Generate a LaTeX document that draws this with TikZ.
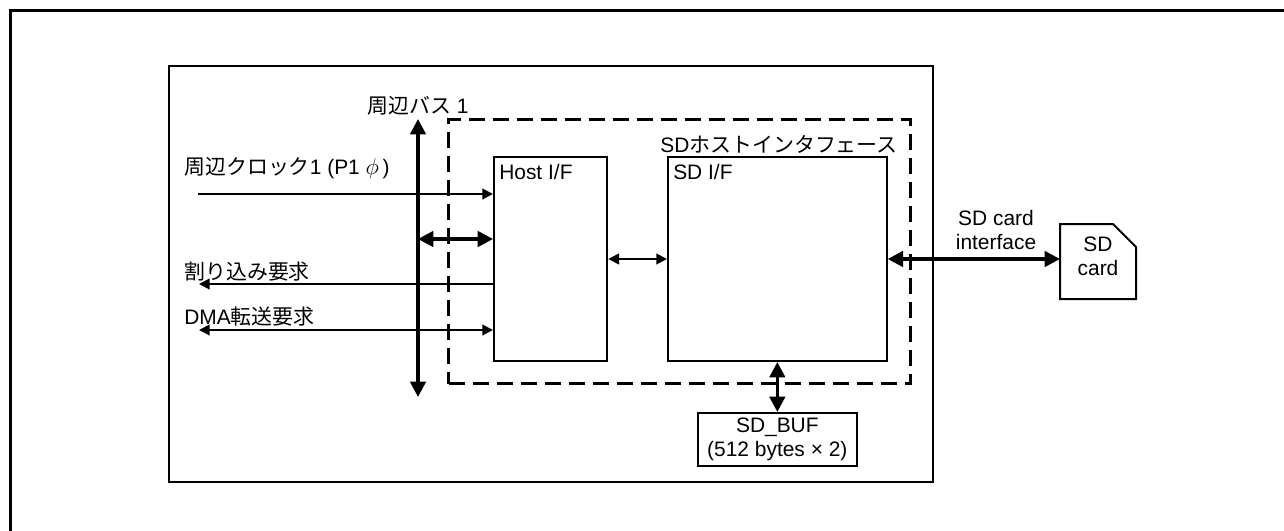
\documentclass[tikz,border=0pt]{standalone}
\usepackage{fontspec}
\setmainfont{Liberation Sans}
\newfontfamily\cjk{Noto Sans CJK JP}
\usepackage{tikz}
\usetikzlibrary{arrows.meta,positioning,calc}
\tikzset{
	block/.style={draw, line width=1.5pt, anchor=north west, inner sep=0pt},
	thinarrow/.style={>={Triangle[length=8pt,width=8pt]}, line width=1.5pt},
	thickarrow/.style={>={Triangle[length=11.5pt,width=11.5pt]}, <->, line width=2.6pt},
	caption/.style={font=\fontsize{15.7pt}{18pt}\selectfont, inner sep=0pt, align=center}
}

\begin{document}
\begin{tikzpicture}[x=0.75pt, y=-0.75pt]
	\useasboundingbox (0,0) rectangle (1284,531);
	
	%% ── Outer frame ─────────────────────────────────────────────────
	\draw[line width=2.2pt] (10.5,531) -- (10.5,10.5) -- (1284,10.5);
	
	%% ── Main box and dashed border ──────────────────────────────────
	\node[block, minimum width=573pt, minimum height=312pt] (chip) at (168,65) {};
	\node[block, dash pattern=on 12pt off 6pt, line width=2.4pt,
	minimum width=346.5pt, minimum height=198pt] (sdhi) at (447,118) {};
	
	%% ── Inner blocks ────────────────────────────────────────────────
	\node[block, minimum width=85pt, minimum height=153pt] (hostif) at (493,156) {};
	\node[block, minimum width=164pt, minimum height=153pt] (sdif) at (667,156) {};
	\node[caption, anchor=west] (hostlabel) at ([xshift=4.5pt, yshift=-12pt] hostif.north west) {Host I/F};
	\node[caption, anchor=west] (sdlabel) at ([xshift=4.5pt, yshift=-12pt] sdif.north west) {SD I/F};
	
	\node[block, caption, minimum width=119pt, minimum height=40pt] (sdbuf) at (697,412)
	{SD\_BUF\\(512 bytes × 2)};
	
	%% ── SD card ─────────────────────────────────────────────────────
	\coordinate (cardw) at (1060,258);
	\draw[line width=1.5pt] (1060,299) -- (1060,224) -- (1113,224) -- (1136,247) -- (1136,299) -- cycle;
	\node[caption] (card) at (1098,256) {SD\\card};
	\node[caption] (cardlabel) at (996,230) {SD card\\interface};
	
	%% ── Free ends ───────────────────────────────────────────────────
	\coordinate (bustop) at (418,119);
	\coordinate (busbot) at (418,397);
	\coordinate (busjoin) at (418,239);
	\coordinate (clkin) at (198,194);
	\coordinate (irqout) at (199,284);
	\coordinate (dmaout) at (199,330);
	
	%% ── Connectors ──────────────────────────────────────────────────
	\draw[thickarrow] (bustop) -- (busbot);
	\draw[thinarrow, ->] (clkin) -- (clkin -| hostif.west);
	\draw[thickarrow] (busjoin) -- (busjoin -| hostif.west);
	\draw[thinarrow, ->] (irqout -| hostif.west) -- (irqout);
	\draw[thinarrow, <->] (dmaout) -- (dmaout -| hostif.west);
	\draw[thinarrow, <->] (hostif.east) -- (sdif.west);
	\draw[thickarrow] (sdif.east) -- (sdif.east -| cardw);
	\draw[thickarrow] (sdif.south -| sdbuf.north) -- (sdbuf.north);
	
	%% ── Labels ──────────────────────────────────────────────────────
	\node[caption, anchor=west] (buslabel) at (367,106) {{\cjk 周辺バス} 1};
	\node[caption, anchor=east] (sdhilabel) at (898,144) {SD{\cjk ホストインタフェース}};
	\node[caption, anchor=west] (clklabel) at (184,168) {{\cjk 周辺クロック}1 (P1\;{\fontsize{18pt}{18pt}\selectfont$\phi$}\,)};
	\node[caption, anchor=west] (irqlabel) at (184,272) {\cjk 割り込み要求};
	\node[caption, anchor=west] (dmalabel) at (184,317) {DMA{\cjk 転送要求}};
\end{tikzpicture}
\end{document}
